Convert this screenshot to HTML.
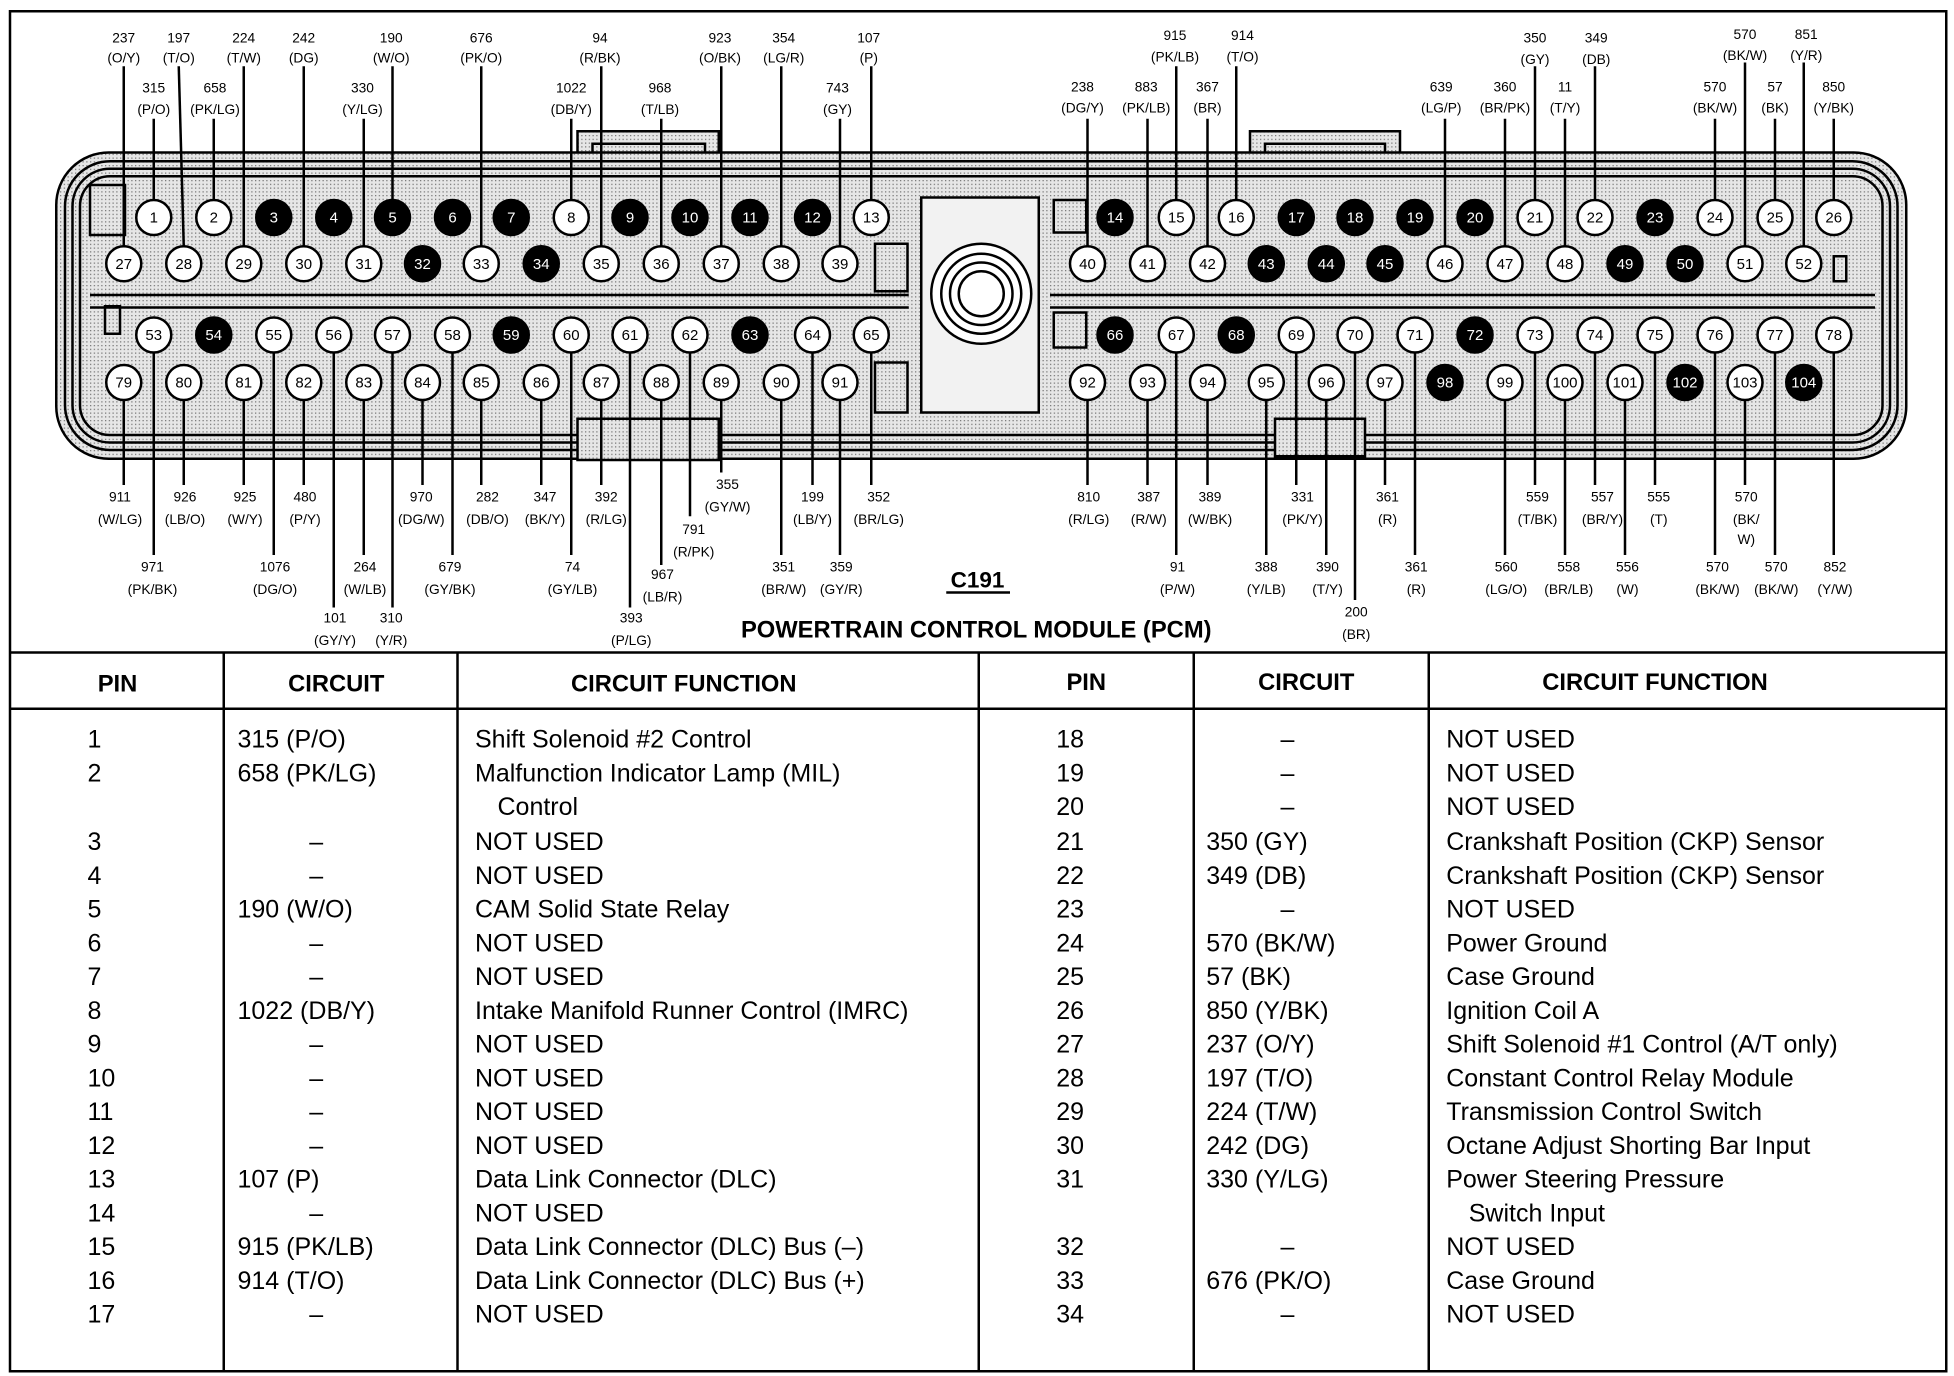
<!DOCTYPE html>
<html><head><meta charset="utf-8"><style>
html,body{margin:0;padding:0;background:#fff}
svg{display:block}
text{font-family:"Liberation Sans",Arial,sans-serif;fill:#000}
.l{font-size:11px;text-anchor:middle}
.p{font-size:12px;text-anchor:middle}
.pw{font-size:12px;text-anchor:middle;fill:#fff}
.t{font-size:20px}
.h{font-size:19px;font-weight:bold;text-anchor:middle}
.c{text-anchor:middle}
</style></head><body>
<svg width="1954" height="1376" viewBox="0 0 1563.2 1100.8" xmlns="http://www.w3.org/2000/svg">
<defs><pattern id="st" width="3" height="3" patternUnits="userSpaceOnUse"><rect width="3" height="3" fill="#e6e6e6"/><rect width="1" height="1" fill="#777"/></pattern></defs>
<rect x="8" y="9" width="1549" height="1088" fill="none" stroke="#000" stroke-width="2"/>

<!-- connector body -->
<g fill="none" stroke="#000" stroke-width="2">
<rect x="462" y="105" width="113" height="40" fill="url(#st)"/>
<rect x="474" y="115" width="90" height="30"/>
<rect x="1000" y="105" width="120" height="40" fill="url(#st)"/>
<rect x="1012" y="115" width="96" height="30"/>
<rect x="45" y="122" width="1480" height="245" rx="42" fill="url(#st)"/>
<rect x="52" y="129" width="1466" height="231" rx="36"/>
<rect x="58" y="135" width="1454" height="219" rx="30"/>
<rect x="64" y="141" width="1442" height="207" rx="24"/>
<rect x="462" y="335" width="113" height="33" fill="url(#st)"/>
<rect x="1020" y="335" width="72" height="30" fill="url(#st)"/>
<line x1="72" y1="236" x2="727" y2="236"/><line x1="72" y1="246" x2="727" y2="246"/>
<line x1="840" y1="236" x2="1500" y2="236"/><line x1="840" y1="246" x2="1500" y2="246"/>
<rect x="737" y="158" width="94" height="172" fill="#f2f2f2"/>
<circle cx="785" cy="235" r="40" fill="#fff"/>
<circle cx="785" cy="235" r="32"/>
<circle cx="785" cy="235" r="25"/>
<circle cx="785" cy="235" r="18"/>
<rect x="700" y="195" width="26" height="38"/><rect x="700" y="290" width="26" height="40"/>
<rect x="843" y="160" width="26" height="26"/><rect x="843" y="250" width="26" height="28"/>
<rect x="84" y="245" width="12" height="22"/><rect x="1467" y="205" width="10" height="20"/>
<rect x="72" y="148" width="28" height="40"/>
</g>

<!-- wires -->
<g stroke="#000" stroke-width="2">
<line x1="99" y1="53" x2="99" y2="197"/><line x1="143" y1="53" x2="147" y2="197"/>
<line x1="195" y1="53" x2="195" y2="197"/><line x1="243" y1="53" x2="243" y2="197"/>
<line x1="314" y1="53" x2="314" y2="160"/><line x1="385" y1="53" x2="385" y2="197"/>
<line x1="481" y1="53" x2="481" y2="197"/><line x1="577" y1="53" x2="577" y2="197"/>
<line x1="625" y1="53" x2="625" y2="197"/><line x1="697" y1="53" x2="697" y2="160"/>
<line x1="941" y1="53" x2="941" y2="160"/><line x1="989" y1="53" x2="989" y2="160"/>
<line x1="1228" y1="53" x2="1228" y2="160"/><line x1="1276" y1="53" x2="1276" y2="160"/>
<line x1="1396" y1="50" x2="1396" y2="197"/><line x1="1443" y1="50" x2="1443" y2="197"/>
<line x1="123" y1="95" x2="123" y2="160"/><line x1="171" y1="95" x2="171" y2="160"/>
<line x1="291" y1="95" x2="291" y2="197"/><line x1="457" y1="95" x2="457" y2="160"/>
<line x1="529" y1="95" x2="529" y2="197"/><line x1="672" y1="95" x2="672" y2="197"/>
<line x1="870" y1="95" x2="870" y2="197"/><line x1="918" y1="95" x2="918" y2="197"/>
<line x1="966" y1="95" x2="966" y2="197"/><line x1="1156" y1="95" x2="1156" y2="197"/>
<line x1="1204" y1="95" x2="1204" y2="197"/><line x1="1252" y1="95" x2="1252" y2="197"/>
<line x1="1372" y1="95" x2="1372" y2="160"/><line x1="1420" y1="95" x2="1420" y2="160"/>
<line x1="1467" y1="95" x2="1467" y2="160"/>
<!-- bottom -->
<line x1="99" y1="320" x2="99" y2="388"/><line x1="147" y1="320" x2="147" y2="388"/>
<line x1="195" y1="320" x2="195" y2="388"/><line x1="243" y1="320" x2="243" y2="388"/>
<line x1="338" y1="320" x2="338" y2="388"/><line x1="385" y1="320" x2="385" y2="388"/>
<line x1="433" y1="320" x2="433" y2="388"/><line x1="481" y1="320" x2="481" y2="388"/>
<line x1="650" y1="282" x2="650" y2="388"/><line x1="697" y1="282" x2="697" y2="388"/>
<line x1="577" y1="320" x2="577" y2="378"/><line x1="552" y1="282" x2="552" y2="413"/>
<line x1="870" y1="320" x2="870" y2="388"/><line x1="918" y1="320" x2="918" y2="388"/>
<line x1="966" y1="320" x2="966" y2="388"/><line x1="1037" y1="282" x2="1037" y2="388"/>
<line x1="1108" y1="320" x2="1108" y2="388"/><line x1="1228" y1="282" x2="1228" y2="388"/>
<line x1="1276" y1="282" x2="1276" y2="388"/><line x1="1324" y1="282" x2="1324" y2="388"/>
<line x1="1396" y1="320" x2="1396" y2="388"/>
<line x1="123" y1="282" x2="123" y2="444"/><line x1="219" y1="282" x2="219" y2="444"/>
<line x1="291" y1="320" x2="291" y2="444"/><line x1="362" y1="282" x2="362" y2="444"/>
<line x1="457" y1="282" x2="457" y2="444"/><line x1="625" y1="320" x2="625" y2="444"/>
<line x1="672" y1="320" x2="672" y2="444"/><line x1="529" y1="320" x2="529" y2="452"/>
<line x1="941" y1="282" x2="941" y2="444"/><line x1="1013" y1="320" x2="1013" y2="444"/>
<line x1="1061" y1="320" x2="1061" y2="444"/><line x1="1132" y1="282" x2="1132" y2="444"/>
<line x1="1204" y1="320" x2="1204" y2="444"/><line x1="1252" y1="320" x2="1252" y2="444"/>
<line x1="1300" y1="320" x2="1300" y2="444"/><line x1="1372" y1="282" x2="1372" y2="444"/>
<line x1="1420" y1="282" x2="1420" y2="444"/><line x1="1467" y1="282" x2="1467" y2="444"/>
<line x1="267" y1="282" x2="267" y2="486"/><line x1="314" y1="282" x2="314" y2="486"/>
<line x1="504" y1="282" x2="504" y2="486"/><line x1="1084" y1="282" x2="1084" y2="480"/>
</g>

<!-- pins -->
<g stroke="#000" stroke-width="2">
<g fill="#fff">
<circle cx="123" cy="174" r="14"/><circle cx="171" cy="174" r="14"/><circle cx="457" cy="174" r="14"/><circle cx="697" cy="174" r="14"/>
<circle cx="941" cy="174" r="14"/><circle cx="989" cy="174" r="14"/><circle cx="1228" cy="174" r="14"/><circle cx="1276" cy="174" r="14"/><circle cx="1372" cy="174" r="14"/><circle cx="1420" cy="174" r="14"/><circle cx="1467" cy="174" r="14"/>
<circle cx="99" cy="211" r="14"/><circle cx="147" cy="211" r="14"/><circle cx="195" cy="211" r="14"/><circle cx="243" cy="211" r="14"/><circle cx="291" cy="211" r="14"/><circle cx="385" cy="211" r="14"/><circle cx="481" cy="211" r="14"/><circle cx="529" cy="211" r="14"/><circle cx="577" cy="211" r="14"/><circle cx="625" cy="211" r="14"/><circle cx="672" cy="211" r="14"/>
<circle cx="870" cy="211" r="14"/><circle cx="918" cy="211" r="14"/><circle cx="966" cy="211" r="14"/><circle cx="1156" cy="211" r="14"/><circle cx="1204" cy="211" r="14"/><circle cx="1252" cy="211" r="14"/><circle cx="1396" cy="211" r="14"/><circle cx="1443" cy="211" r="14"/>
<circle cx="123" cy="268" r="14"/><circle cx="219" cy="268" r="14"/><circle cx="267" cy="268" r="14"/><circle cx="314" cy="268" r="14"/><circle cx="362" cy="268" r="14"/><circle cx="457" cy="268" r="14"/><circle cx="504" cy="268" r="14"/><circle cx="552" cy="268" r="14"/><circle cx="650" cy="268" r="14"/><circle cx="697" cy="268" r="14"/>
<circle cx="941" cy="268" r="14"/><circle cx="1037" cy="268" r="14"/><circle cx="1084" cy="268" r="14"/><circle cx="1132" cy="268" r="14"/><circle cx="1228" cy="268" r="14"/><circle cx="1276" cy="268" r="14"/><circle cx="1324" cy="268" r="14"/><circle cx="1372" cy="268" r="14"/><circle cx="1420" cy="268" r="14"/><circle cx="1467" cy="268" r="14"/>
<circle cx="99" cy="306" r="14"/><circle cx="147" cy="306" r="14"/><circle cx="195" cy="306" r="14"/><circle cx="243" cy="306" r="14"/><circle cx="291" cy="306" r="14"/><circle cx="338" cy="306" r="14"/><circle cx="385" cy="306" r="14"/><circle cx="433" cy="306" r="14"/><circle cx="481" cy="306" r="14"/><circle cx="529" cy="306" r="14"/><circle cx="577" cy="306" r="14"/><circle cx="625" cy="306" r="14"/><circle cx="672" cy="306" r="14"/>
<circle cx="870" cy="306" r="14"/><circle cx="918" cy="306" r="14"/><circle cx="966" cy="306" r="14"/><circle cx="1013" cy="306" r="14"/><circle cx="1061" cy="306" r="14"/><circle cx="1108" cy="306" r="14"/><circle cx="1204" cy="306" r="14"/><circle cx="1252" cy="306" r="14"/><circle cx="1300" cy="306" r="14"/><circle cx="1396" cy="306" r="14"/>
</g>
<g fill="#000">
<circle cx="219" cy="174" r="14"/><circle cx="267" cy="174" r="14"/><circle cx="314" cy="174" r="14"/><circle cx="362" cy="174" r="14"/><circle cx="409" cy="174" r="14"/><circle cx="504" cy="174" r="14"/><circle cx="552" cy="174" r="14"/><circle cx="600" cy="174" r="14"/><circle cx="650" cy="174" r="14"/>
<circle cx="892" cy="174" r="14"/><circle cx="1037" cy="174" r="14"/><circle cx="1084" cy="174" r="14"/><circle cx="1132" cy="174" r="14"/><circle cx="1180" cy="174" r="14"/><circle cx="1324" cy="174" r="14"/>
<circle cx="338" cy="211" r="14"/><circle cx="433" cy="211" r="14"/><circle cx="1013" cy="211" r="14"/><circle cx="1061" cy="211" r="14"/><circle cx="1108" cy="211" r="14"/><circle cx="1300" cy="211" r="14"/><circle cx="1348" cy="211" r="14"/>
<circle cx="171" cy="268" r="14"/><circle cx="409" cy="268" r="14"/><circle cx="600" cy="268" r="14"/><circle cx="892" cy="268" r="14"/><circle cx="989" cy="268" r="14"/><circle cx="1180" cy="268" r="14"/>
<circle cx="1156" cy="306" r="14"/><circle cx="1348" cy="306" r="14"/><circle cx="1443" cy="306" r="14"/>
</g></g>
<g>
<text class="p" x="123" y="178">1</text><text class="p" x="171" y="178">2</text><text class="pw" x="219" y="178">3</text><text class="pw" x="267" y="178">4</text><text class="pw" x="314" y="178">5</text><text class="pw" x="362" y="178">6</text><text class="pw" x="409" y="178">7</text><text class="p" x="457" y="178">8</text><text class="pw" x="504" y="178">9</text><text class="pw" x="552" y="178">10</text><text class="pw" x="600" y="178">11</text><text class="pw" x="650" y="178">12</text><text class="p" x="697" y="178">13</text>
<text class="pw" x="892" y="178">14</text><text class="p" x="941" y="178">15</text><text class="p" x="989" y="178">16</text><text class="pw" x="1037" y="178">17</text><text class="pw" x="1084" y="178">18</text><text class="pw" x="1132" y="178">19</text><text class="pw" x="1180" y="178">20</text><text class="p" x="1228" y="178">21</text><text class="p" x="1276" y="178">22</text><text class="pw" x="1324" y="178">23</text><text class="p" x="1372" y="178">24</text><text class="p" x="1420" y="178">25</text><text class="p" x="1467" y="178">26</text>
<text class="p" x="99" y="215">27</text><text class="p" x="147" y="215">28</text><text class="p" x="195" y="215">29</text><text class="p" x="243" y="215">30</text><text class="p" x="291" y="215">31</text><text class="pw" x="338" y="215">32</text><text class="p" x="385" y="215">33</text><text class="pw" x="433" y="215">34</text><text class="p" x="481" y="215">35</text><text class="p" x="529" y="215">36</text><text class="p" x="577" y="215">37</text><text class="p" x="625" y="215">38</text><text class="p" x="672" y="215">39</text>
<text class="p" x="870" y="215">40</text><text class="p" x="918" y="215">41</text><text class="p" x="966" y="215">42</text><text class="pw" x="1013" y="215">43</text><text class="pw" x="1061" y="215">44</text><text class="pw" x="1108" y="215">45</text><text class="p" x="1156" y="215">46</text><text class="p" x="1204" y="215">47</text><text class="p" x="1252" y="215">48</text><text class="pw" x="1300" y="215">49</text><text class="pw" x="1348" y="215">50</text><text class="p" x="1396" y="215">51</text><text class="p" x="1443" y="215">52</text>
<text class="p" x="123" y="272">53</text><text class="pw" x="171" y="272">54</text><text class="p" x="219" y="272">55</text><text class="p" x="267" y="272">56</text><text class="p" x="314" y="272">57</text><text class="p" x="362" y="272">58</text><text class="pw" x="409" y="272">59</text><text class="p" x="457" y="272">60</text><text class="p" x="504" y="272">61</text><text class="p" x="552" y="272">62</text><text class="pw" x="600" y="272">63</text><text class="p" x="650" y="272">64</text><text class="p" x="697" y="272">65</text>
<text class="pw" x="892" y="272">66</text><text class="p" x="941" y="272">67</text><text class="pw" x="989" y="272">68</text><text class="p" x="1037" y="272">69</text><text class="p" x="1084" y="272">70</text><text class="p" x="1132" y="272">71</text><text class="pw" x="1180" y="272">72</text><text class="p" x="1228" y="272">73</text><text class="p" x="1276" y="272">74</text><text class="p" x="1324" y="272">75</text><text class="p" x="1372" y="272">76</text><text class="p" x="1420" y="272">77</text><text class="p" x="1467" y="272">78</text>
<text class="p" x="99" y="310">79</text><text class="p" x="147" y="310">80</text><text class="p" x="195" y="310">81</text><text class="p" x="243" y="310">82</text><text class="p" x="291" y="310">83</text><text class="p" x="338" y="310">84</text><text class="p" x="385" y="310">85</text><text class="p" x="433" y="310">86</text><text class="p" x="481" y="310">87</text><text class="p" x="529" y="310">88</text><text class="p" x="577" y="310">89</text><text class="p" x="625" y="310">90</text><text class="p" x="672" y="310">91</text>
<text class="p" x="870" y="310">92</text><text class="p" x="918" y="310">93</text><text class="p" x="966" y="310">94</text><text class="p" x="1013" y="310">95</text><text class="p" x="1061" y="310">96</text><text class="p" x="1108" y="310">97</text><text class="pw" x="1156" y="310">98</text><text class="p" x="1204" y="310">99</text><text class="p" x="1252" y="310">100</text><text class="p" x="1300" y="310">101</text><text class="pw" x="1348" y="310">102</text><text class="p" x="1396" y="310">103</text><text class="pw" x="1443" y="310">104</text>
</g>

<!-- labels top -->
<g class="l">
<text class="l" x="99" y="34">237</text><text class="l" x="99" y="50">(O/Y)</text>
<text class="l" x="143" y="34">197</text><text class="l" x="143" y="50">(T/O)</text>
<text class="l" x="195" y="34">224</text><text class="l" x="195" y="50">(T/W)</text>
<text class="l" x="243" y="34">242</text><text class="l" x="243" y="50">(DG)</text>
<text class="l" x="313" y="34">190</text><text class="l" x="313" y="50">(W/O)</text>
<text class="l" x="385" y="34">676</text><text class="l" x="385" y="50">(PK/O)</text>
<text class="l" x="480" y="34">94</text><text class="l" x="480" y="50">(R/BK)</text>
<text class="l" x="576" y="34">923</text><text class="l" x="576" y="50">(O/BK)</text>
<text class="l" x="627" y="34">354</text><text class="l" x="627" y="50">(LG/R)</text>
<text class="l" x="695" y="34">107</text><text class="l" x="695" y="50">(P)</text>
<text class="l" x="940" y="32">915</text><text class="l" x="940" y="49">(PK/LB)</text>
<text class="l" x="994" y="32">914</text><text class="l" x="994" y="49">(T/O)</text>
<text class="l" x="1228" y="34">350</text><text class="l" x="1228" y="51">(GY)</text>
<text class="l" x="1277" y="34">349</text><text class="l" x="1277" y="51">(DB)</text>
<text class="l" x="1396" y="31">570</text><text class="l" x="1396" y="48">(BK/W)</text>
<text class="l" x="1445" y="31">851</text><text class="l" x="1445" y="48">(Y/R)</text>
<text class="l" x="123" y="74">315</text><text class="l" x="123" y="91">(P/O)</text>
<text class="l" x="172" y="74">658</text><text class="l" x="172" y="91">(PK/LG)</text>
<text class="l" x="290" y="74">330</text><text class="l" x="290" y="91">(Y/LG)</text>
<text class="l" x="457" y="74">1022</text><text class="l" x="457" y="91">(DB/Y)</text>
<text class="l" x="528" y="74">968</text><text class="l" x="528" y="91">(T/LB)</text>
<text class="l" x="670" y="74">743</text><text class="l" x="670" y="91">(GY)</text>
<text class="l" x="866" y="73">238</text><text class="l" x="866" y="90">(DG/Y)</text>
<text class="l" x="917" y="73">883</text><text class="l" x="917" y="90">(PK/LB)</text>
<text class="l" x="966" y="73">367</text><text class="l" x="966" y="90">(BR)</text>
<text class="l" x="1153" y="73">639</text><text class="l" x="1153" y="90">(LG/P)</text>
<text class="l" x="1204" y="73">360</text><text class="l" x="1204" y="90">(BR/PK)</text>
<text class="l" x="1252" y="73">11</text><text class="l" x="1252" y="90">(T/Y)</text>
<text class="l" x="1372" y="73">570</text><text class="l" x="1372" y="90">(BK/W)</text>
<text class="l" x="1420" y="73">57</text><text class="l" x="1420" y="90">(BK)</text>
<text class="l" x="1467" y="73">850</text><text class="l" x="1467" y="90">(Y/BK)</text>
<!-- bottom -->
<text class="l" x="96" y="401">911</text><text class="l" x="96" y="419">(W/LG)</text>
<text class="l" x="148" y="401">926</text><text class="l" x="148" y="419">(LB/O)</text>
<text class="l" x="196" y="401">925</text><text class="l" x="196" y="419">(W/Y)</text>
<text class="l" x="244" y="401">480</text><text class="l" x="244" y="419">(P/Y)</text>
<text class="l" x="337" y="401">970</text><text class="l" x="337" y="419">(DG/W)</text>
<text class="l" x="390" y="401">282</text><text class="l" x="390" y="419">(DB/O)</text>
<text class="l" x="436" y="401">347</text><text class="l" x="436" y="419">(BK/Y)</text>
<text class="l" x="485" y="401">392</text><text class="l" x="485" y="419">(R/LG)</text>
<text class="l" x="582" y="391">355</text><text class="l" x="582" y="409">(GY/W)</text>
<text class="l" x="555" y="427">791</text><text class="l" x="555" y="445">(R/PK)</text>
<text class="l" x="650" y="401">199</text><text class="l" x="650" y="419">(LB/Y)</text>
<text class="l" x="703" y="401">352</text><text class="l" x="703" y="419">(BR/LG)</text>
<text class="l" x="871" y="401">810</text><text class="l" x="871" y="419">(R/LG)</text>
<text class="l" x="919" y="401">387</text><text class="l" x="919" y="419">(R/W)</text>
<text class="l" x="968" y="401">389</text><text class="l" x="968" y="419">(W/BK)</text>
<text class="l" x="1042" y="401">331</text><text class="l" x="1042" y="419">(PK/Y)</text>
<text class="l" x="1110" y="401">361</text><text class="l" x="1110" y="419">(R)</text>
<text class="l" x="1230" y="401">559</text><text class="l" x="1230" y="419">(T/BK)</text>
<text class="l" x="1282" y="401">557</text><text class="l" x="1282" y="419">(BR/Y)</text>
<text class="l" x="1327" y="401">555</text><text class="l" x="1327" y="419">(T)</text>
<text class="l" x="1397" y="401">570</text><text class="l" x="1397" y="419">(BK/</text><text class="l" x="1397" y="435">W)</text>
<text class="l" x="122" y="457">971</text><text class="l" x="122" y="475">(PK/BK)</text>
<text class="l" x="220" y="457">1076</text><text class="l" x="220" y="475">(DG/O)</text>
<text class="l" x="292" y="457">264</text><text class="l" x="292" y="475">(W/LB)</text>
<text class="l" x="360" y="457">679</text><text class="l" x="360" y="475">(GY/BK)</text>
<text class="l" x="458" y="457">74</text><text class="l" x="458" y="475">(GY/LB)</text>
<text class="l" x="530" y="463">967</text><text class="l" x="530" y="481">(LB/R)</text>
<text class="l" x="627" y="457">351</text><text class="l" x="627" y="475">(BR/W)</text>
<text class="l" x="673" y="457">359</text><text class="l" x="673" y="475">(GY/R)</text>
<text class="l" x="268" y="498">101</text><text class="l" x="268" y="516">(GY/Y)</text>
<text class="l" x="313" y="498">310</text><text class="l" x="313" y="516">(Y/R)</text>
<text class="l" x="505" y="498">393</text><text class="l" x="505" y="516">(P/LG)</text>
<text class="l" x="942" y="457">91</text><text class="l" x="942" y="475">(P/W)</text>
<text class="l" x="1013" y="457">388</text><text class="l" x="1013" y="475">(Y/LB)</text>
<text class="l" x="1062" y="457">390</text><text class="l" x="1062" y="475">(T/Y)</text>
<text class="l" x="1085" y="493">200</text><text class="l" x="1085" y="511">(BR)</text>
<text class="l" x="1133" y="457">361</text><text class="l" x="1133" y="475">(R)</text>
<text class="l" x="1205" y="457">560</text><text class="l" x="1205" y="475">(LG/O)</text>
<text class="l" x="1255" y="457">558</text><text class="l" x="1255" y="475">(BR/LB)</text>
<text class="l" x="1302" y="457">556</text><text class="l" x="1302" y="475">(W)</text>
<text class="l" x="1374" y="457">570</text><text class="l" x="1374" y="475">(BK/W)</text>
<text class="l" x="1421" y="457">570</text><text class="l" x="1421" y="475">(BK/W)</text>
<text class="l" x="1468" y="457">852</text><text class="l" x="1468" y="475">(Y/W)</text>
</g>
<text x="782" y="470" style="font-size:18px;font-weight:bold;text-anchor:middle">C191</text>
<line x1="757" y1="474" x2="808" y2="474" stroke="#000" stroke-width="2"/>
<text x="781" y="510" style="font-size:19px;font-weight:bold;text-anchor:middle">POWERTRAIN CONTROL MODULE (PCM)</text>

<!-- table -->
<g stroke="#000" stroke-width="2">
<line x1="8" y1="522" x2="1557" y2="522"/><line x1="8" y1="567" x2="1557" y2="567"/>
<line x1="179" y1="522" x2="179" y2="1097"/><line x1="366" y1="522" x2="366" y2="1097"/>
<line x1="783" y1="522" x2="783" y2="1097"/><line x1="955" y1="522" x2="955" y2="1097"/>
<line x1="1143" y1="522" x2="1143" y2="1097"/>
</g>
<text class="h" x="94" y="553">PIN</text><text class="h" x="269" y="553">CIRCUIT</text><text class="h" x="547" y="553">CIRCUIT FUNCTION</text>
<text class="h" x="869" y="552">PIN</text><text class="h" x="1045" y="552">CIRCUIT</text><text class="h" x="1324" y="552">CIRCUIT FUNCTION</text>
<g class="t">
<text class="t" x="70" y="598">1</text><text class="t" x="190" y="598">315 (P/O)</text><text class="t" x="380" y="598">Shift Solenoid #2 Control</text>
<text class="t" x="70" y="625">2</text><text class="t" x="190" y="625">658 (PK/LG)</text><text class="t" x="380" y="625">Malfunction Indicator Lamp (MIL)</text>
<text class="t" x="398" y="652">Control</text>
<text class="t" x="70" y="680">3</text><text class="t c" x="253" y="680">–</text><text class="t" x="380" y="680">NOT USED</text>
<text class="t" x="70" y="707">4</text><text class="t c" x="253" y="707">–</text><text class="t" x="380" y="707">NOT USED</text>
<text class="t" x="70" y="734">5</text><text class="t" x="190" y="734">190 (W/O)</text><text class="t" x="380" y="734">CAM Solid State Relay</text>
<text class="t" x="70" y="761">6</text><text class="t c" x="253" y="761">–</text><text class="t" x="380" y="761">NOT USED</text>
<text class="t" x="70" y="788">7</text><text class="t c" x="253" y="788">–</text><text class="t" x="380" y="788">NOT USED</text>
<text class="t" x="70" y="815">8</text><text class="t" x="190" y="815">1022 (DB/Y)</text><text class="t" x="380" y="815">Intake Manifold Runner Control (IMRC)</text>
<text class="t" x="70" y="842">9</text><text class="t c" x="253" y="842">–</text><text class="t" x="380" y="842">NOT USED</text>
<text class="t" x="70" y="869">10</text><text class="t c" x="253" y="869">–</text><text class="t" x="380" y="869">NOT USED</text>
<text class="t" x="70" y="896">11</text><text class="t c" x="253" y="896">–</text><text class="t" x="380" y="896">NOT USED</text>
<text class="t" x="70" y="923">12</text><text class="t c" x="253" y="923">–</text><text class="t" x="380" y="923">NOT USED</text>
<text class="t" x="70" y="950">13</text><text class="t" x="190" y="950">107 (P)</text><text class="t" x="380" y="950">Data Link Connector (DLC)</text>
<text class="t" x="70" y="977">14</text><text class="t c" x="253" y="977">–</text><text class="t" x="380" y="977">NOT USED</text>
<text class="t" x="70" y="1004">15</text><text class="t" x="190" y="1004">915 (PK/LB)</text><text class="t" x="380" y="1004">Data Link Connector (DLC) Bus (–)</text>
<text class="t" x="70" y="1031">16</text><text class="t" x="190" y="1031">914 (T/O)</text><text class="t" x="380" y="1031">Data Link Connector (DLC) Bus (+)</text>
<text class="t" x="70" y="1058">17</text><text class="t c" x="253" y="1058">–</text><text class="t" x="380" y="1058">NOT USED</text>

<text class="t" x="845" y="598">18</text><text class="t c" x="1030" y="598">–</text><text class="t" x="1157" y="598">NOT USED</text>
<text class="t" x="845" y="625">19</text><text class="t c" x="1030" y="625">–</text><text class="t" x="1157" y="625">NOT USED</text>
<text class="t" x="845" y="652">20</text><text class="t c" x="1030" y="652">–</text><text class="t" x="1157" y="652">NOT USED</text>
<text class="t" x="845" y="680">21</text><text class="t" x="965" y="680">350 (GY)</text><text class="t" x="1157" y="680">Crankshaft Position (CKP) Sensor</text>
<text class="t" x="845" y="707">22</text><text class="t" x="965" y="707">349 (DB)</text><text class="t" x="1157" y="707">Crankshaft Position (CKP) Sensor</text>
<text class="t" x="845" y="734">23</text><text class="t c" x="1030" y="734">–</text><text class="t" x="1157" y="734">NOT USED</text>
<text class="t" x="845" y="761">24</text><text class="t" x="965" y="761">570 (BK/W)</text><text class="t" x="1157" y="761">Power Ground</text>
<text class="t" x="845" y="788">25</text><text class="t" x="965" y="788">57 (BK)</text><text class="t" x="1157" y="788">Case Ground</text>
<text class="t" x="845" y="815">26</text><text class="t" x="965" y="815">850 (Y/BK)</text><text class="t" x="1157" y="815">Ignition Coil A</text>
<text class="t" x="845" y="842">27</text><text class="t" x="965" y="842">237 (O/Y)</text><text class="t" x="1157" y="842">Shift Solenoid #1 Control (A/T only)</text>
<text class="t" x="845" y="869">28</text><text class="t" x="965" y="869">197 (T/O)</text><text class="t" x="1157" y="869">Constant Control Relay Module</text>
<text class="t" x="845" y="896">29</text><text class="t" x="965" y="896">224 (T/W)</text><text class="t" x="1157" y="896">Transmission Control Switch</text>
<text class="t" x="845" y="923">30</text><text class="t" x="965" y="923">242 (DG)</text><text class="t" x="1157" y="923">Octane Adjust Shorting Bar Input</text>
<text class="t" x="845" y="950">31</text><text class="t" x="965" y="950">330 (Y/LG)</text><text class="t" x="1157" y="950">Power Steering Pressure</text>
<text class="t" x="1175" y="977">Switch Input</text>
<text class="t" x="845" y="1004">32</text><text class="t c" x="1030" y="1004">–</text><text class="t" x="1157" y="1004">NOT USED</text>
<text class="t" x="845" y="1031">33</text><text class="t" x="965" y="1031">676 (PK/O)</text><text class="t" x="1157" y="1031">Case Ground</text>
<text class="t" x="845" y="1058">34</text><text class="t c" x="1030" y="1058">–</text><text class="t" x="1157" y="1058">NOT USED</text>
</g>
</svg>
</body></html>
